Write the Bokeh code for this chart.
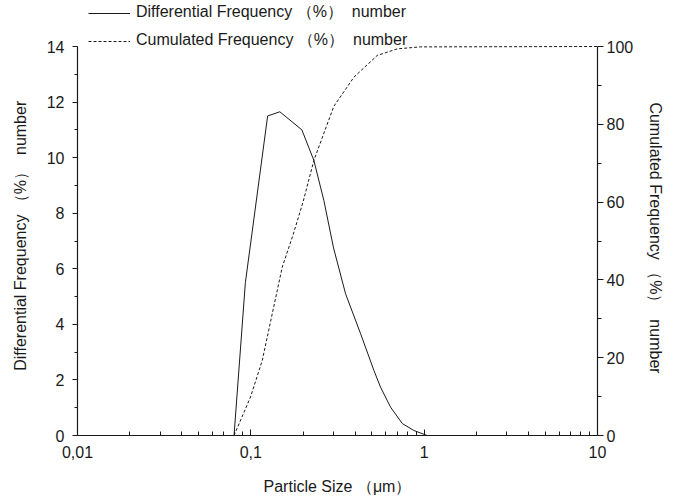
from bokeh.plotting import figure
from bokeh.models import (Range1d, LinearAxis, LogAxis, FixedTicker, CustomJSTickFormatter,
                          Legend, LegendItem)
from bokeh.embed import file_html
from bokeh.resources import INLINE

# ---- data ----
diff_size = [0.08, 0.093, 0.125, 0.147, 0.197, 0.231, 0.264, 0.30, 0.352, 0.43,
             0.513, 0.56, 0.64, 0.748, 0.872, 1.04, 10]
diff_val = [0, 5.5, 11.5, 11.65, 11.0, 9.9, 8.45, 6.75, 5.1, 3.66,
            2.34, 1.74, 1.02, 0.43, 0.18, 0.0, 0.0]

cum_size = [0.08, 0.0996, 0.1164, 0.1329, 0.1518, 0.175, 0.2, 0.231, 0.301,
            0.393, 0.536, 0.70, 0.95, 10]
cum_val = [0, 9.9, 19.3, 31.3, 43.3, 51.5, 60.0, 70.7, 84.6,
           92.1, 97.7, 99.4, 99.9, 100]

x_major = [0.01, 0.1, 1, 10]
x_minor = [0.02, 0.03, 0.04, 0.05, 0.06, 0.07, 0.08, 0.09,
           0.2, 0.3, 0.4, 0.5, 0.6, 0.7, 0.8, 0.9,
           2, 3, 4, 5, 6, 7, 8, 9]
left_major = [0, 2, 4, 6, 8, 10, 12, 14]
left_minor = [1, 3, 5, 7, 9, 11, 13]
right_major = [0, 20, 40, 60, 80, 100]
right_minor = [10, 30, 50, 70, 90]
left_max = 14
right_max = 100

NB = "\u00a0"
label_diff = "Differential Frequency" + NB + "（%）" + NB + NB + "number"
label_cum = "Cumulated Frequency" + NB + "（%）" + NB + NB + "number"
label_x = "Particle Size" + NB + "（μm）"

FONT = "Liberation Sans"
FS = "16px"
INK = "#1a1a1a"

# layout: frame spans the full height above the x axis so that the legend
# (drawn inside the frame area) is not clipped; the axes stop at their max.
FRAME_H = 435          # px from top of canvas to x axis
AXIS_H = 389           # px length of the y axes (0 .. max)
headroom = FRAME_H / AXIS_H

p = figure(width=674, height=498, x_axis_type="log",
           x_range=Range1d(0.01, 10), y_range=Range1d(0, left_max * headroom),
           output_backend="svg", toolbar_location=None,
           min_border_left=77, min_border_right=77,
           min_border_top=0, min_border_bottom=498 - FRAME_H,
           x_axis_location=None, y_axis_location=None)
p.outline_line_color = None
p.xgrid.visible = False
p.ygrid.visible = False
p.background_fill_color = "white"
p.border_fill_color = "white"
p.extra_y_ranges = {"cum": Range1d(0, right_max * headroom)}

fmt_x = CustomJSTickFormatter(code="""
var s = tick < 1 ? tick.toPrecision(1) : tick.toFixed(0);
return s.replace('.', ',');
""")

def style(ax):
    ax.axis_line_color = INK
    ax.major_tick_line_color = INK
    ax.minor_tick_line_color = INK
    ax.axis_line_width = 1.2
    ax.major_label_text_font = FONT
    ax.major_label_text_font_size = FS
    ax.major_label_text_color = INK
    ax.axis_label_text_font = FONT
    ax.axis_label_text_font_size = FS
    ax.axis_label_text_font_style = "normal"
    ax.axis_label_text_color = INK

xax = LogAxis(ticker=FixedTicker(ticks=x_major, minor_ticks=x_minor),
              formatter=fmt_x, axis_label=label_x)
style(xax)
xax.major_tick_in = 6
xax.major_tick_out = 0
xax.minor_tick_in = 4
xax.minor_tick_out = 0
xax.major_label_standoff = 10
xax.axis_label_standoff = 17
p.add_layout(xax, "below")

# the y-axis titles are centred on the whole frame height; pad them so that
# the visible text sits centred on the drawn axis (0 .. max)
yax = LinearAxis(ticker=FixedTicker(ticks=left_major, minor_ticks=left_minor),
                 axis_label=label_diff + NB * 8, bounds=(0, left_max))
style(yax)
yax.major_tick_in = 0
yax.major_tick_out = 5
yax.minor_tick_in = 0
yax.minor_tick_out = 3
yax.major_label_standoff = 8
yax.axis_label_standoff = 15
p.add_layout(yax, "left")

rax = LinearAxis(y_range_name="cum",
                 ticker=FixedTicker(ticks=right_major, minor_ticks=right_minor),
                 axis_label=NB * 9 + label_cum, bounds=(0, right_max))
style(rax)
rax.major_tick_in = 0
rax.major_tick_out = 6
rax.minor_tick_in = 0
rax.minor_tick_out = 4
rax.major_label_standoff = 3
rax.axis_label_standoff = 11
p.add_layout(rax, "right")

r1 = p.line(diff_size, diff_val, line_color=INK, line_width=1.0)
r2 = p.line(cum_size, cum_val, y_range_name="cum", line_color=INK,
            line_width=1.0, line_dash="3 2")

legend = Legend(items=[LegendItem(label=label_diff, renderers=[r1]),
                       LegendItem(label=label_cum, renderers=[r2])],
                location=(11, FRAME_H - 51))
legend.border_line_alpha = 0
legend.background_fill_alpha = 0
legend.padding = 0
legend.margin = 0
legend.spacing = 7
legend.label_height = 18
legend.glyph_height = 18
legend.glyph_width = 42
legend.label_standoff = 6
legend.label_text_font = FONT
legend.label_text_font_size = FS
legend.label_text_color = INK
p.add_layout(legend, "center")

open("out.html", "w").write(file_html(p, INLINE))
